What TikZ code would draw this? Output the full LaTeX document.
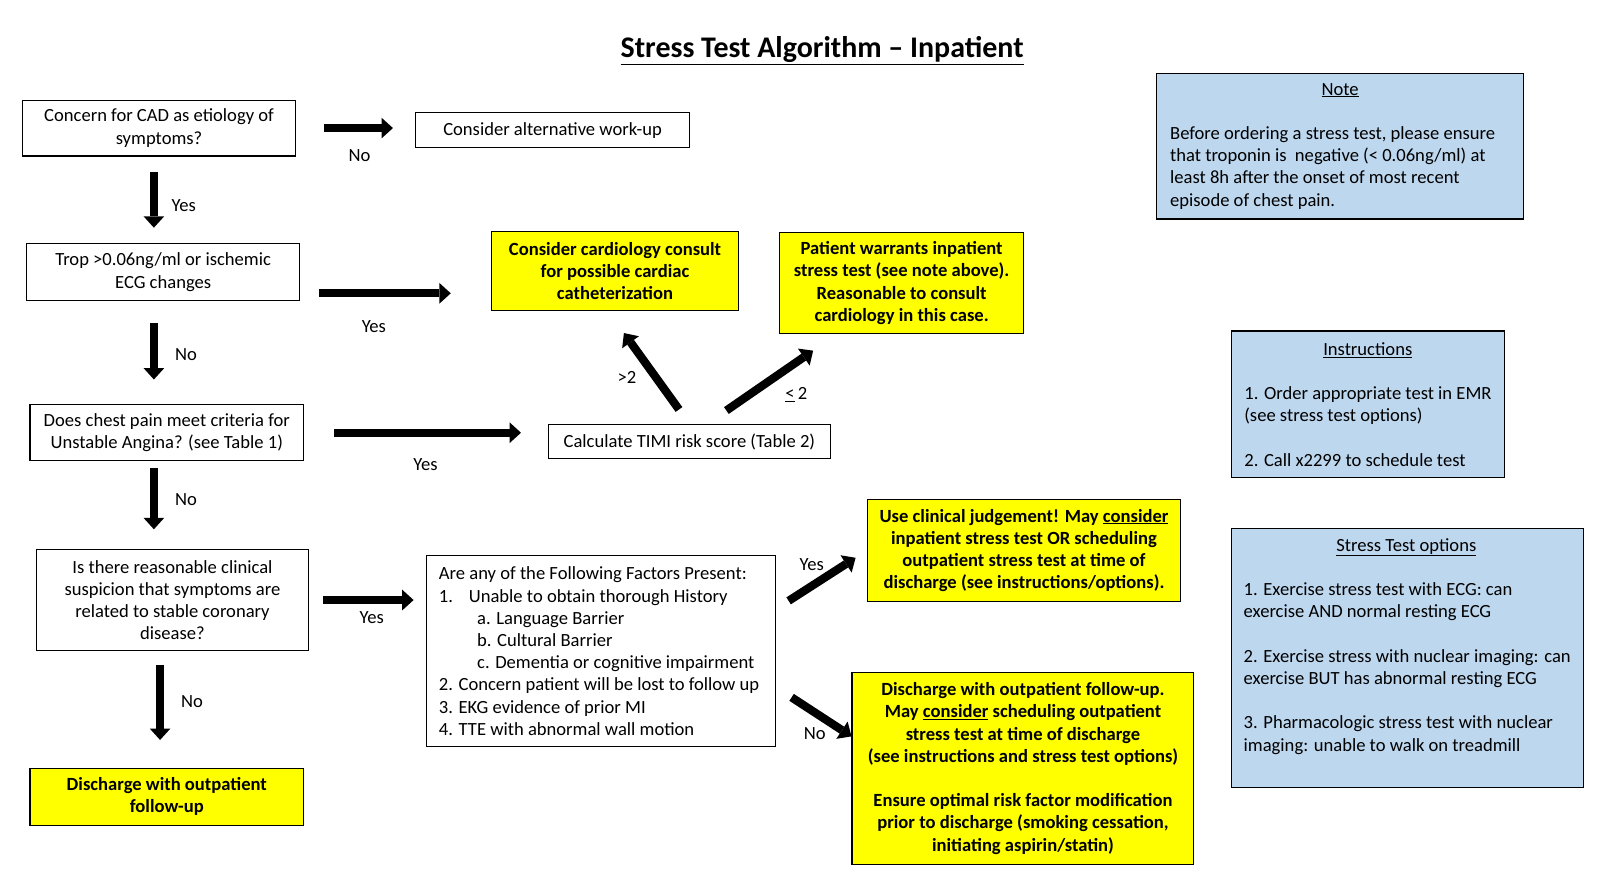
\documentclass[tikz,border=0pt]{standalone}
\usepackage{fontspec}
\setmainfont{Carlito}
\usetikzlibrary{arrows.meta,calc}
\definecolor{ybox}{RGB}{255,255,0}
\definecolor{bbox}{RGB}{189,215,238}
\begin{document}
\begin{tikzpicture}[x=1pt,y=-1pt,
  txt/.style={font=\fontsize{18}{21.5}\selectfont},
  box/.style={draw=black, line width=1.1pt, fill=white, align=center, txt, inner sep=0pt},
  ybx/.style={box, fill=ybox, font=\fontsize{18}{21.5}\selectfont\bfseries},
  bbx/.style={box, fill=bbox, align=left},
  lbl/.style={txt, inner sep=0pt},
  blk/.style={line width=8pt, draw=black, -{Triangle[length=11pt,width=20pt,line width=0pt]}}
]
\useasboundingbox (0,0) rectangle (1567.6,850.1);

% title
\node[inner sep=0pt, font=\fontsize{29}{34}\selectfont\bfseries] (title) at (796,49)
  {\underline{Stress Test Algorithm – Inpatient}};

% left column
\node[box, minimum width=264pt, minimum height=54pt] (b1) at (154,124)
  {Concern for CAD as etiology of\\symptoms?};
\node[box, minimum width=266pt, minimum height=34pt] (alt) at (535,126)
  {Consider alternative work-up};
\node[box, minimum width=264pt, minimum height=55pt] (b2) at (158,263.5)
  {Trop >0.06ng/ml or ischemic\\ECG changes};
\node[box, minimum width=265pt, minimum height=54pt] (b3) at (161.5,419)
  {Does chest pain meet criteria for\\Unstable Angina? (see Table 1)};
\node[box, minimum width=264pt, minimum height=98pt] (b4) at (167,581)
  {Is there reasonable clinical\\suspicion that symptoms are\\related to stable coronary\\disease?};
\node[ybx, minimum width=265pt, minimum height=55pt] (y5) at (161.5,771.5)
  {Discharge with outpatient\\follow-up};

% middle
\node[ybx, minimum width=239pt, minimum height=77pt] (y1) at (595.5,262.5)
  {Consider cardiology consult\\for possible cardiac\\catheterization};
\node[ybx, minimum width=236pt, minimum height=98pt] (y2) at (873,274)
  {Patient warrants inpatient\\stress test (see note above).\\Reasonable to consult\\cardiology in this case.};
\node[box, minimum width=273pt, minimum height=33pt] (timi) at (667.5,427.5)
  {Calculate TIMI risk score (Table 2)};
\node[box, align=left, minimum width=338pt, minimum height=185pt] (fac) at (582,630.5)
  {\makebox[314pt][l]{Are any of the Following Factors Present:}\\
   \makebox[29pt][l]{1.}Unable to obtain thorough History\\
   \hspace*{37pt}a. Language Barrier\\
   \hspace*{37pt}b. Cultural Barrier\\
   \hspace*{37pt}c. Dementia or cognitive impairment\\
   2. Concern patient will be lost to follow up\\
   3. EKG evidence of prior MI\\
   4. TTE with abnormal wall motion};
\node[ybx, minimum width=303pt, minimum height=98pt] (y3) at (991.5,533)
  {Use clinical judgement! May \underline{consider}\\inpatient stress test OR scheduling\\outpatient stress test at time of\\discharge (see instructions/options).};
\node[ybx, minimum width=331pt, minimum height=186pt] (y4) at (990.5,744)
  {Discharge with outpatient follow-up.\\May \underline{consider} scheduling outpatient\\stress test at time of discharge\\(see instructions and stress test options)\\[21.5pt]Ensure optimal risk factor modification\\prior to discharge (smoking cessation,\\initiating aspirin/statin)};

% right column
\node[bbx, minimum width=355pt, minimum height=141pt] (note) at (1297.5,141.5)
  {\makebox[329pt]{\underline{Note}}\\[21.5pt]
   Before ordering a stress test, please ensure\\
   that troponin is\ \ negative (< 0.06ng/ml) at\\
   least 8h after the onset of most recent\\
   episode of chest pain.};
\node[bbx, minimum width=265pt, minimum height=142pt] (instr) at (1324.5,391.5)
  {\makebox[239pt]{\underline{Instructions}}\\[21.5pt]
   1. Order appropriate test in EMR\\
   (see stress test options)\\[21.5pt]
   2. Call x2299 to schedule test};
\node[bbx, minimum width=341pt, minimum height=251pt] (opts) at (1362.5,637)
  {\makebox[315pt]{\underline{Stress Test options}}\\[21.5pt]
   1. Exercise stress test with ECG: can\\
   exercise AND normal resting ECG\\[21.5pt]
   2. Exercise stress with nuclear imaging: can\\
   exercise BUT has abnormal resting ECG\\[21.5pt]
   3. Pharmacologic stress test with nuclear\\
   imaging: unable to walk on treadmill\\[4pt]\mbox{}};

% helper coordinates for connector ends
\coordinate (a2) at ($(b2.east)+(0,20.5)$);
\coordinate (v1) at ($(b1.south)+(-5,0)$);
\coordinate (v2) at ($(b2.south)+(-9,0)$);
\coordinate (v3) at ($(b3.south)+(-12.5,0)$);
\coordinate (v4) at ($(b4.south)+(-12,0)$);
\coordinate (d1e) at ($(y1.south)+(-6.5,0)$);
\coordinate (d2e) at ($(y2.south west)+(56,0)$);
\coordinate (d3s) at ($(fac.east)+(0,-41)$);
\coordinate (d4s) at ($(fac.east)+(0,35)$);
\coordinate (d4e) at ($(y4.west)+(0,-31)$);

% connectors
\draw[blk, shorten <=27pt, shorten >=21pt] (b1.east) -- (b1.east -| alt.west);
\draw[blk, shorten <=15pt, shorten >=15pt] (v1) -- (v1 |- b2.north);
\draw[blk, shorten <=18pt, shorten >=39pt] (a2) -- (a2 -| y1.west);
\draw[blk, shorten <=21pt, shorten >=24pt] (v2) -- (v2 |- b3.north);
\draw[blk, shorten <=29pt, shorten >=26pt] (b3.east) -- (b3.east -| timi.west);
\draw[blk, shorten <=7pt, shorten >=19pt] (v3) -- (v3 |- b4.north);
\draw[blk, shorten <=13pt, shorten >=12pt] (b4.east) -- (b4.east -| fac.west);
\draw[blk, shorten <=13pt, shorten >=27pt] (v4) -- (v4 |- y5.north);
\draw[blk, shorten <=17.2pt, shorten >=25.8pt] (timi.north) -- (d1e);
\draw[blk, shorten <=22.8pt, shorten >=28.1pt] (timi.45) -- (d2e);
\draw[blk, shorten <=14.3pt, shorten >=13.1pt] (d3s) -- (y3.west);
\draw[blk, shorten <=17.8pt] (d4s) -- (d4e);

% connector labels
\node[lbl] (l1) at (348,151) {No};
\node[lbl] (l2) at (178,199) {Yes};
\node[lbl] (l3) at (362,316) {Yes};
\node[lbl] (l4) at (180,343) {No};
\node[lbl] (l5) at (607,365) {>2};
\node[lbl] (l6) at (771,382) {\underline{<}\,2};
\node[lbl] (l7) at (412,450) {Yes};
\node[lbl] (l8) at (180,484) {No};
\node[lbl] (l9) at (360,598) {Yes};
\node[lbl] (l10) at (786,547) {Yes};
\node[lbl] (l11) at (789,710) {No};
\node[lbl] (l12) at (186,679) {No};
\end{tikzpicture}
\end{document}
